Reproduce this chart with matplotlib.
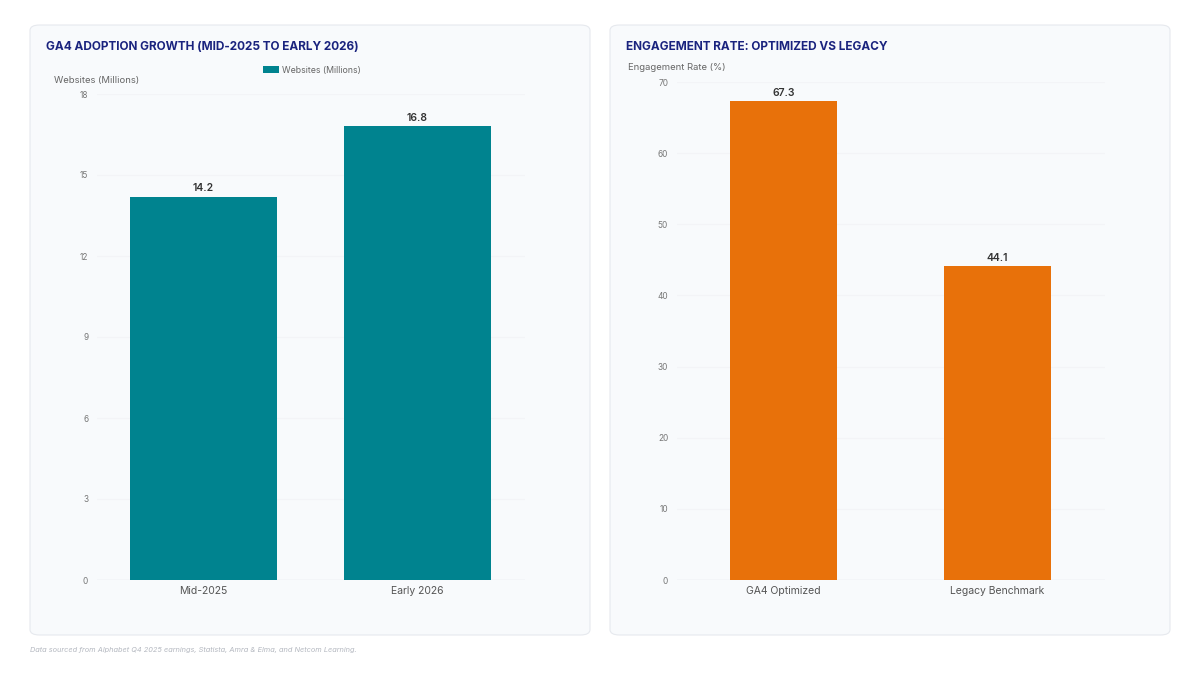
import matplotlib
matplotlib.use("Agg")
import matplotlib.pyplot as plt
from matplotlib.patches import FancyBboxPatch, Patch

plt.rcParams['font.family'] = ['Inter', 'DejaVu Sans']

# Data
adoption_categories = ["Mid-2025", "Early 2026"]
adoption_values = [14.2, 16.8]
adoption_ticks = [0, 3, 6, 9, 12, 15, 18]

engagement_categories = ["GA4 Optimized", "Legacy Benchmark"]
engagement_values = [67.3, 44.1]
engagement_ticks = [0, 10, 20, 30, 40, 50, 60, 70]

TEAL = "#00838f"
ORANGE = "#e8710a"
NAVY = "#1a237e"

W, H = 1200, 675
fig = plt.figure(figsize=(12, 6.75), dpi=100)
fig.patch.set_facecolor("white")

def px(x, y):
    return x / W, 1 - y / H

# cards
for (x0, x1) in [(30, 590), (610, 1170)]:
    fx, fy = px(x0, 635)
    card = FancyBboxPatch((fx, fy), (x1 - x0) / W, 610 / H,
                          boxstyle="round,pad=0,rounding_size=0.008",
                          transform=fig.transFigure, facecolor="#f8fafc",
                          edgecolor="#e6e9ee", linewidth=0.8, zorder=-5)
    fig.patches.append(card)

def style_ax(ax, ticks):
    ax.set_zorder(5)
    ax.set_facecolor("none")
    for s in ax.spines.values():
        s.set_visible(False)
    ax.set_yticks(ticks)
    ax.set_ylim(ticks[0], ticks[-1])
    ax.tick_params(axis="y", length=0, labelsize=6, labelcolor="#777777", pad=6)
    ax.tick_params(axis="x", length=0, labelsize=7.5, labelcolor="#555555", pad=4)
    ax.grid(axis="y", color="#f3f4f7", linewidth=0.8)
    ax.set_axisbelow(True)
    ax.axhline(0, color="#e6e8ec", linewidth=1.0, zorder=1)

# Left axes
l0, b0 = px(96.5, 580)
_, t0 = px(0, 94)
ax1 = fig.add_axes([l0, b0, 428 / W, t0 - b0])
ax1.bar(range(len(adoption_categories)), adoption_values, width=0.69, color=TEAL, zorder=2)
ax1.set_xticks(range(len(adoption_categories)))
ax1.set_xticklabels(adoption_categories)
ax1.set_xlim(-0.5, len(adoption_categories) - 0.5)
style_ax(ax1, adoption_ticks)
for i, v in enumerate(adoption_values):
    ax1.annotate(f"{v:.1f}", (i, v), xytext=(0, 2.5), textcoords="offset points",
                 ha="center", va="bottom", fontsize=7.5, fontweight="semibold", color="#333333")

# Right axes
l1, b1 = px(676.5, 580)
_, t1 = px(0, 82)
ax2 = fig.add_axes([l1, b1, 428 / W, t1 - b1])
ax2.bar(range(len(engagement_categories)), engagement_values, width=0.5, color=ORANGE, zorder=2)
ax2.set_xticks(range(len(engagement_categories)))
ax2.set_xticklabels(engagement_categories)
ax2.set_xlim(-0.5, len(engagement_categories) - 0.5)
style_ax(ax2, engagement_ticks)
for i, v in enumerate(engagement_values):
    ax2.annotate(f"{v:.1f}", (i, v), xytext=(0, 2.5), textcoords="offset points",
                 ha="center", va="bottom", fontsize=7.5, fontweight="semibold", color="#333333")

# Titles
fig.text(*px(46, 47), "GA4 ADOPTION GROWTH (MID-2025 TO EARLY 2026)", fontsize=8.5,
         fontweight="bold", color=NAVY, ha="left", va="center")
fig.text(*px(626, 47), "ENGAGEMENT RATE: OPTIMIZED VS LEGACY", fontsize=8.5,
         fontweight="bold", color=NAVY, ha="left", va="center")

# Axis titles
fig.text(*px(54, 80), "Websites (Millions)", fontsize=6.8, color="#666666", ha="left", va="center")
fig.text(*px(628, 68), "Engagement Rate (%)", fontsize=6.8, color="#666666", ha="left", va="center")

# Legend
leg = fig.legend(handles=[Patch(facecolor=TEAL, edgecolor="none")],
                 labels=["Websites (Millions)"], loc="center",
                 bbox_to_anchor=px(312, 70), frameon=False, fontsize=6.3,
                 handlelength=1.8, handleheight=1.0, handletextpad=0.4,
                 labelcolor="#666666")

# Footnote
fig.text(*px(30, 650), "Data sourced from Alphabet Q4 2025 earnings, Statista, Amra & Elma, and Netcom Learning.",
         fontsize=5.3, style="italic", color="#b4b8c0", ha="left", va="center")

fig.savefig("out.png", dpi=100, facecolor="white")
